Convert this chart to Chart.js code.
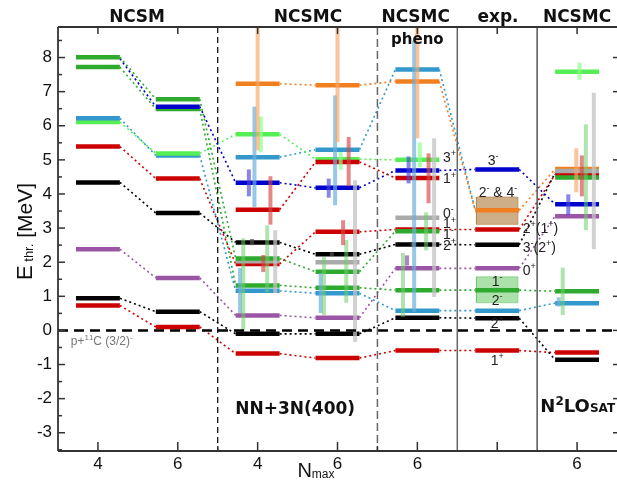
<!DOCTYPE html>
<html>
<head>
<meta charset="utf-8">
<script src="https://cdn.jsdelivr.net/npm/chart.js@4.4.1/dist/chart.umd.min.js"></script>
<style>
  html, body { margin: 0; padding: 0; background: #fff; }
</style>
</head>
<body>
<canvas id="levels" width="617" height="484"></canvas>
<script>
// x positions 0..6 are the seven calculation columns
const xTickLabels = ['4', '6', '4', '6', '6', '', '6'];
const yTicks = [-3, -2, -1, 0, 1, 2, 3, 4, 5, 6, 7, 8];

// levels per column: [J^pi, energy above p+11C threshold in MeV]
const ncsm4 = [['1-', 8.01], ['1-', 7.72], ['2-', 6.22], ['3+', 6.11], ['1+', 5.39], ['2+', 4.34],
  ['0+', 2.38], ['2+', 0.94], ['1+', 0.73]];
const ncsm6 = [['1-', 6.78], ['3-', 6.56], ['1-', 6.49], ['3+', 5.19], ['2-', 5.13], ['1+', 4.45],
  ['2+', 3.44], ['0+', 1.54], ['2+', 0.55], ['1+', 0.10]];
const ncsmc4 = [['4-', 7.23], ['3+', 5.75], ['2-', 5.08], ['3-', 4.33], ['1+', 3.54], ['2+', 2.58],
  ['1-', 2.11], ['0-', 2.03], ['1+', 1.95], ['1-', 1.32], ['2-', 1.16], ['0+', 0.44], ['2+', -0.10], ['1+', -0.68]];
const ncsmc6 = [['4-', 7.19], ['2-', 5.30], ['1+', 4.94], ['3+', 5.02], ['3-', 4.18], ['1+', 2.89],
  ['2+', 2.23], ['0-', 2.00], ['1-', 1.72], ['1-', 1.25], ['2-', 1.09], ['0+', 0.37], ['2+', -0.10], ['1+', -0.81]];
const pheno6 = [['2-', 7.65], ['4-', 7.30], ['3+', 5.00], ['3-', 4.69], ['1+', 4.47], ['0-', 3.30],
  ['1-', 2.91], ['1+', 2.96], ['2+', 2.52], ['0+', 1.82], ['1-', 1.18], ['2-', 0.58], ['2+', 0.37], ['1+', -0.59]];
const expt = [['3-', 4.72], ['4-', 3.52], ['1+', 2.96], ['2+', 2.51], ['0+', 1.82], ['1-', 1.18],
  ['2-', 0.58], ['2+', 0.36], ['1+', -0.59]];
const sat6 = [['3+', 7.58], ['0-', 4.67], ['4-', 4.73], ['1-', 4.48], ['1+', 4.57], ['3-', 3.70],
  ['0+', 3.35], ['1-', 1.15], ['2-', 0.80], ['1+', -0.65], ['2+', -0.86]];

// experimental widths (box) [J^pi, low, high]
const expBands = [['4-', 3.11, 3.91], ['1-', 0.81, 1.57]];

// resonance widths [x, low, high, J^pi]
const widths = [
  [2.00, 5.28, 9.2, '4-'], [1.96, 3.62, 6.56, '2-'], [2.04, 5.22, 6.27, '3+'], [1.89, 3.93, 4.72, '3-'],
  [2.16, 3.10, 4.52, '1+'], [2.07, 1.71, 2.21, '1+'], [1.82, 0.00, 2.70, '1-'], [1.78, 0.51, 1.83, '2-'],
  [2.12, 1.12, 3.08, '1-'], [2.22, 1.10, 2.94, '0-'], [1.93, 2.50, 2.68, '2+'],
  [3.00, 5.52, 9.2, '4-'], [2.97, 3.67, 6.89, '2-'], [3.04, 4.71, 5.23, '3+'], [3.14, 4.23, 5.67, '1+'],
  [2.89, 3.89, 4.45, '3-'], [3.22, -0.34, 4.40, '0-'], [3.07, 2.50, 3.23, '1+'], [3.11, 0.81, 2.65, '1-'],
  [2.83, 0.45, 2.15, '1-'], [2.79, 0.51, 1.68, '2-'], [2.93, 2.18, 2.29, '2+'],
  [4.00, 5.63, 9.2, '4-'], [3.96, 0.55, 8.50, '2-'], [4.03, 4.78, 5.51, '3+'], [3.89, 4.31, 5.10, '3-'],
  [4.14, 3.73, 5.19, '1+'], [4.21, 0.98, 5.63, '0-'], [4.11, 2.35, 3.46, '1-'], [3.82, 0.40, 2.27, '1-'],
  [3.87, 1.90, 2.20, '0+'], [3.94, 2.47, 2.57, '2+'],
  [6.03, 7.35, 7.85, '3+'], [6.21, 2.38, 6.97, '0-'], [6.11, 2.94, 6.04, '1-'], [5.99, 4.05, 5.34, '4-'],
  [6.06, 3.93, 5.13, '1+'], [5.89, 3.38, 3.99, '3-'], [5.82, 0.45, 1.84, '1-'], [5.77, 0.70, 0.97, '2-']
];

// dotted links [J^pi, from column, from energy, to column, to energy]
const links = [
  ['1-', 0, 8.01, 1, 6.78], ['3-', 0, 7.97, 1, 6.56], ['1-', 0, 7.72, 1, 6.49], ['2-', 0, 6.22, 1, 5.13],
  ['3+', 0, 6.11, 1, 5.19], ['1+', 0, 5.39, 1, 4.45], ['2+', 0, 4.34, 1, 3.44], ['0+', 0, 2.38, 1, 1.54],
  ['2+', 0, 0.94, 1, 0.55], ['1+', 0, 0.73, 1, 0.10],
  ['3-', 1, 6.56, 2, 4.33], ['1-', 1, 6.78, 2, 2.11], ['1-', 1, 6.49, 2, 1.32], ['3+', 1, 5.19, 2, 5.75],
  ['2-', 1, 5.13, 2, 1.16], ['1+', 1, 4.45, 2, 1.95], ['2+', 1, 3.44, 2, 2.58], ['0+', 1, 1.54, 2, 0.44],
  ['2+', 1, 0.55, 2, -0.10], ['1+', 1, 0.10, 2, -0.68],
  ['4-', 2, 7.23, 3, 7.19], ['3+', 2, 5.75, 3, 5.02], ['2-', 2, 5.08, 3, 5.30], ['3-', 2, 4.33, 3, 4.18],
  ['1+', 2, 3.54, 3, 4.94], ['2+', 2, 2.58, 3, 2.23], ['1+', 2, 1.95, 3, 2.89], ['1-', 2, 2.11, 3, 1.72],
  ['1-', 2, 1.32, 3, 1.25], ['2-', 2, 1.16, 3, 1.09], ['0+', 2, 0.44, 3, 0.37], ['2+', 2, -0.10, 3, -0.10],
  ['1+', 2, -0.68, 3, -0.81],
  ['4-', 3, 7.19, 4, 7.30], ['2-', 3, 5.30, 4, 7.65], ['3+', 3, 5.02, 4, 5.00], ['1+', 3, 4.94, 4, 4.47],
  ['3-', 3, 4.18, 4, 4.69], ['1+', 3, 2.89, 4, 2.96], ['2+', 3, 2.23, 4, 2.52], ['1-', 3, 1.72, 4, 2.91],
  ['1-', 3, 1.25, 4, 1.18], ['2-', 3, 1.09, 4, 0.58], ['0+', 3, 0.37, 4, 1.82], ['2+', 3, -0.10, 4, 0.37],
  ['1+', 3, -0.81, 4, -0.59],
  ['4-', 4, 7.30, 5, 3.52], ['2-', 4, 7.65, 5, 3.52], ['3-', 4, 4.69, 5, 4.72], ['1+', 4, 2.96, 5, 2.96],
  ['2+', 4, 2.52, 5, 2.51], ['0+', 4, 1.82, 5, 1.82], ['1-', 4, 1.18, 5, 1.18], ['2-', 4, 0.58, 5, 0.58],
  ['2+', 4, 0.37, 5, 0.36], ['1+', 4, -0.59, 5, -0.59],
  ['3-', 5, 4.72, 6, 3.70], ['4-', 5, 3.52, 6, 4.73], ['1+', 5, 2.96, 6, 4.57], ['2+', 5, 2.51, 6, 4.62],
  ['0+', 5, 1.82, 6, 3.35], ['1-', 5, 1.18, 6, 1.15], ['2-', 5, 0.58, 6, 0.80], ['2+', 5, 0.36, 6, -0.86],
  ['1+', 5, -0.59, 6, -0.65]
];

const stateColor = {
  '2+': '#000000', '1+': '#cc0000', '0+': '#9b55a5', '1-': '#2eaa2e', '2-': '#3399cc',
  '3-': '#0000cc', '4-': '#f07f20', '3+': '#55ee55', '0-': '#aaaaaa'
};
const widthColor = {
  '2+': 'rgba(80,80,80,0.7)', '1+': 'rgba(215,70,70,0.65)', '0+': 'rgba(150,80,165,0.7)',
  '1-': 'rgba(110,205,110,0.55)', '2-': 'rgba(110,175,220,0.7)', '3-': 'rgba(70,70,225,0.65)',
  '4-': 'rgba(250,165,100,0.65)', '3+': 'rgba(140,255,140,0.7)', '0-': 'rgba(195,195,195,0.75)'
};
const bandColor = { '4-': 'rgba(180,130,70,0.65)', '1-': 'rgba(90,195,90,0.5)' };

const HALF = 0.275;
const columns = [ncsm4, ncsm6, ncsmc4, ncsmc6, pheno6, expt, sat6];

const datasets = [];
const line = { showLine: true, pointRadius: 0, borderCapStyle: 'butt', fill: false };

widths.forEach(([x, lo, hi, st]) => {
  datasets.push({ ...line, data: [{ x, y: lo }, { x, y: hi }], borderColor: widthColor[st], borderWidth: 4, order: 0 });
});
columns.forEach((col, c) => {
  col.forEach(([st, e]) => {
    datasets.push({ ...line, data: [{ x: c - HALF, y: e }, { x: c + HALF, y: e }],
      borderColor: stateColor[st], borderWidth: 4.5, order: 1 });
  });
});
expBands.forEach(([st, lo, hi]) => {
  const h = 0.26;
  datasets.push({ ...line, data: [{ x: 5 - h, y: lo }, { x: 5 + h, y: lo }, { x: 5 + h, y: hi }, { x: 5 - h, y: hi }, { x: 5 - h, y: lo }],
    fill: 'shape', backgroundColor: bandColor[st], borderColor: bandColor[st], borderWidth: 1, order: 2 });
});
links.forEach(([st, c0, e0, c1, e1]) => {
  datasets.push({ ...line, data: [{ x: c0 + HALF, y: e0 }, { x: c1 - HALF, y: e1 }],
    borderColor: stateColor[st], borderWidth: 1.6, borderDash: [2, 3], order: 3 });
});

// text with ^ marking a superscript character
function parts(str, size) {
  const out = [];
  for (let i = 0; i < str.length; i++) {
    if (str[i] === '^') out.push([str[++i], Math.round(size * 0.65), size * 0.42]);
    else out.push([str[i], size, 0]);
  }
  return out;
}
function drawParts(ctx, list, x, y, align, family, weight) {
  const f = p => `${weight || 'normal'} ${p[1]}px ${family}`;
  let w = 0;
  list.forEach(p => { ctx.font = f(p); w += ctx.measureText(p[0]).width; });
  let cx = align === 'center' ? x - w / 2 : x;
  ctx.textAlign = 'left';
  ctx.textBaseline = 'alphabetic';
  list.forEach(p => {
    ctx.font = f(p);
    ctx.fillText(p[0], cx, y - p[2]);
    cx += ctx.measureText(p[0]).width;
  });
}

const SANS = '"Liberation Sans", Arial, sans-serif';
const BOLD = '"DejaVu Sans", sans-serif';

// level tags [x, y, text, align]
const tags = [
  [4.32, 4.95, '3^+', 'left'], [4.32, 4.31, '1^+', 'left'], [4.32, 3.29, '0^-', 'left'],
  [4.32, 2.99, '1^+', 'left'], [4.32, 2.67, '1^-', 'left'], [4.32, 2.36, '2^+', 'left'],
  [4.95, 4.84, '3^-', 'center'], [5.01, 3.92, '2^- & 4^-', 'center'], [5.32, 2.85, '2^+(1^+)', 'left'],
  [5.32, 2.31, '3^-(2^+)', 'left'], [5.32, 1.62, '0^+', 'left'], [5.0, 1.30, '1^-', 'center'],
  [5.0, 0.74, '2^-', 'center'], [5.0, 0.06, '2^+', 'center'], [5.0, -1.01, '1^+', 'center']
];
const titles = [[0.49, 'NCSM'], [2.63, 'NCSMC'], [3.98, 'NCSMC'], [5.01, 'exp.'], [6.0, 'NCSMC']];

const frame = {
  id: 'frame',
  afterDatasetsDraw(chart) {
    const { ctx, chartArea: a, scales: { x, y } } = chart;
    const seg = (x0, y0, x1, y1) => { ctx.beginPath(); ctx.moveTo(x0, y0); ctx.lineTo(x1, y1); ctx.stroke(); };
    ctx.save();
    // threshold line
    const y0 = y.getPixelForValue(0);
    ctx.strokeStyle = '#000'; ctx.lineWidth = 2.5; ctx.setLineDash([10, 6]);
    seg(a.left, y0, a.right, y0);
    // column dividers
    ctx.lineWidth = 1.2; ctx.setLineDash([6, 4]); ctx.strokeStyle = '#000';
    seg(x.getPixelForValue(1.5), a.top, x.getPixelForValue(1.5), a.bottom);
    ctx.lineWidth = 1.5; ctx.setLineDash([8, 4]); ctx.strokeStyle = '#666';
    seg(x.getPixelForValue(3.5), a.top, x.getPixelForValue(3.5), a.bottom);
    ctx.setLineDash([]); ctx.strokeStyle = '#666';
    seg(x.getPixelForValue(4.5), a.top, x.getPixelForValue(4.5), a.bottom);
    ctx.strokeStyle = '#555';
    seg(x.getPixelForValue(5.5), a.top, x.getPixelForValue(5.5), a.bottom);
    // frame and inward ticks
    ctx.strokeStyle = '#333'; ctx.lineWidth = 1.8;
    seg(a.left, a.top, a.right, a.top);
    seg(a.left, a.top, a.left, a.bottom);
    seg(a.left, a.bottom, a.right, a.bottom);
    ctx.lineWidth = 1.5;
    for (let v = -3.5; v <= 8.5; v += 0.5) {
      const p = y.getPixelForValue(v);
      const major = Number.isInteger(v);
      seg(a.left, p, a.left + (major ? 7 : 4), p);
      if (major) seg(a.right, p, a.right - 4, p);
    }
    for (let v = 0; v <= 6; v++) {
      const p = x.getPixelForValue(v);
      seg(p, a.bottom, p, a.bottom - 9);
      seg(p, a.top, p, a.top + 7);
    }
    [1.5, 3.5].forEach(v => { const p = x.getPixelForValue(v); seg(p, a.bottom, p, a.bottom - 5); });

    // texts
    ctx.fillStyle = '#111';
    titles.forEach(([v, t]) => drawParts(ctx, parts(t, 17), x.getPixelForValue(v), a.top - 5, 'center', BOLD, 'bold'));
    drawParts(ctx, parts('pheno', 15), x.getPixelForValue(4.0), y.getPixelForValue(8.40), 'center', BOLD, 'bold');
    drawParts(ctx, parts('NN+3N(400)', 17), x.getPixelForValue(2.47), y.getPixelForValue(-2.46), 'center', BOLD, 'bold');
    drawParts(ctx, [['N', 18, 0], ['2', 12, 7], ['LO', 18, 0], ['SAT', 12, 0]],
      x.getPixelForValue(5.54), y.getPixelForValue(-2.40), 'left', BOLD, 'bold');
    ctx.fillStyle = '#222';
    tags.forEach(([tx, ty, t, al]) => drawParts(ctx, parts(t, 14), x.getPixelForValue(tx), y.getPixelForValue(ty), al, SANS));
    ctx.fillStyle = '#777';
    drawParts(ctx, parts('p+^1^1C (3/2)^-', 12), x.getPixelForValue(-0.34), y.getPixelForValue(-0.43), 'left', SANS);

    // axis titles
    ctx.fillStyle = '#111';
    drawParts(ctx, [['N', 20, 0], ['max', 12, -1]], x.getPixelForValue(2.73), 477, 'center', SANS);
    ctx.translate(32, y.getPixelForValue(2.9));
    ctx.rotate(-Math.PI / 2);
    drawParts(ctx, [['E', 22, 0], [' thr.', 13, -1], [' [MeV]', 21, 0]], 0, 0, 'center', SANS);
    ctx.restore();
  }
};

new Chart(document.getElementById('levels'), {
  type: 'scatter',
  data: { datasets },
  options: {
    responsive: false,
    animation: false,
    devicePixelRatio: 1,
    layout: { padding: { top: 27, left: 0, right: 0, bottom: 0 } },
    plugins: { legend: { display: false }, tooltip: { enabled: false } },
    scales: {
      x: {
        type: 'linear', min: -0.5, max: 6.5,
        grid: { display: false, drawTicks: false },
        border: { display: false },
        afterBuildTicks: s => { s.ticks = xTickLabels.map((_, i) => ({ value: i })); },
        afterFit: s => { s.height = 33; },
        ticks: {
          autoSkip: false, maxRotation: 0, padding: 3, color: '#111',
          font: { family: SANS, size: 17 },
          callback: v => xTickLabels[v]
        }
      },
      y: {
        type: 'linear', min: -3.535, max: 8.895,
        grid: { display: false, drawTicks: false },
        border: { display: false },
        afterBuildTicks: s => { s.ticks = yTicks.map(v => ({ value: v })); },
        afterFit: s => { s.width = 58; },
        ticks: { padding: 6, color: '#111', font: { family: SANS, size: 17 } }
      }
    }
  },
  plugins: [frame]
});
</script>
</body>
</html>
